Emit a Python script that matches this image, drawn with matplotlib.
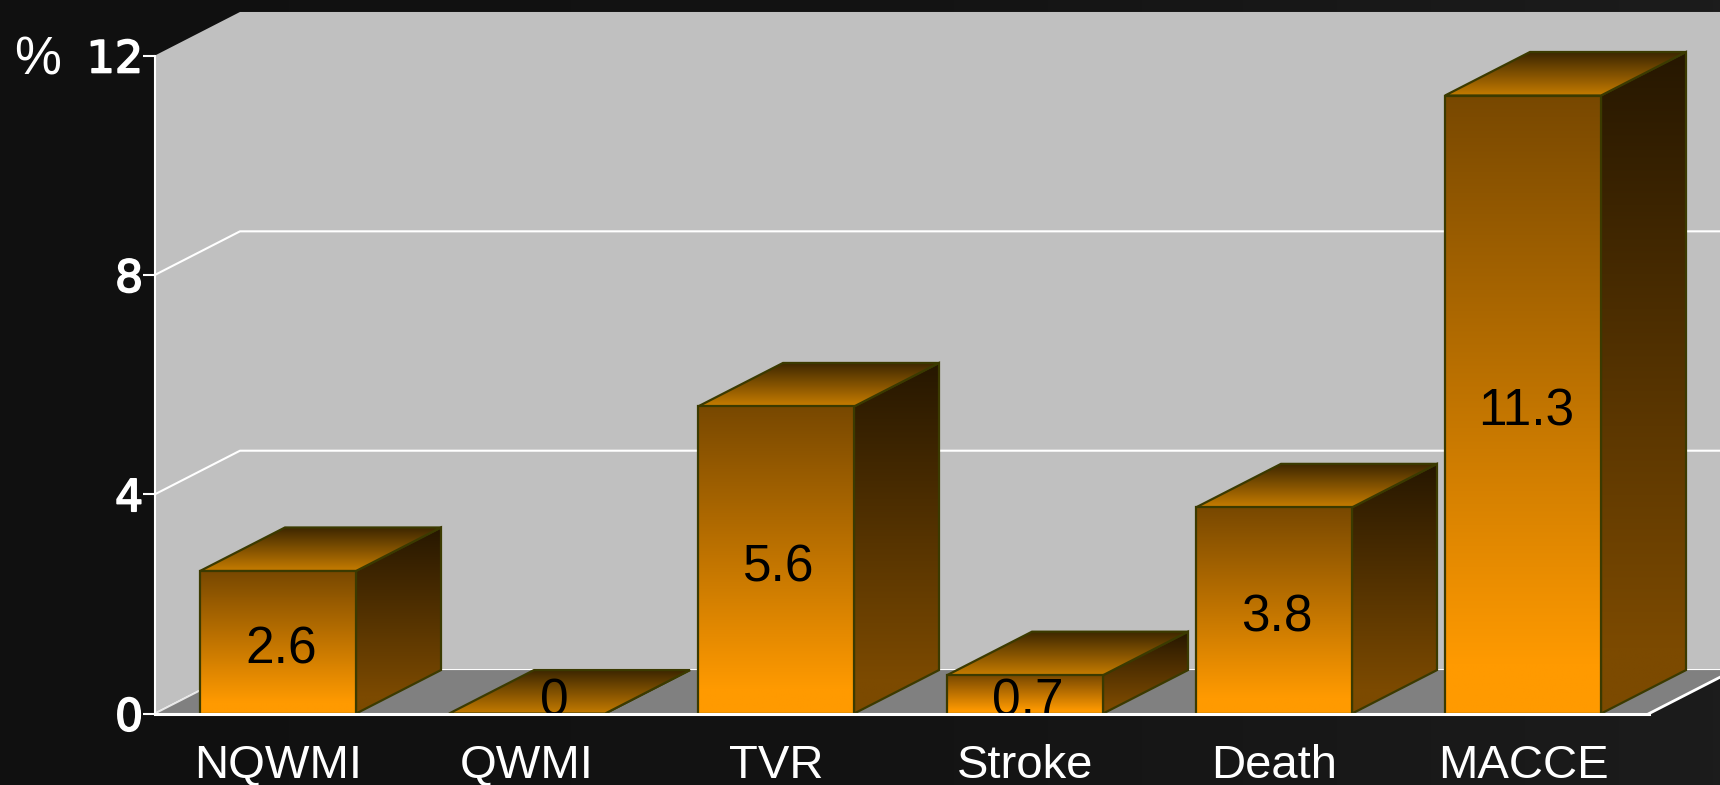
import numpy as np
import matplotlib
matplotlib.use('Agg')
import matplotlib.pyplot as plt
import matplotlib.colors as clr
import matplotlib.patheffects as pe
from matplotlib.patches import Polygon

# Chart data
categories = ['NQWMI', 'QWMI', 'TVR', 'Stroke', 'Death', 'MACCE']
values = [2.6, 0, 5.6, 0.7, 3.76, 11.27]    # bar heights
value_labels = ['2.6', '0', '5.6', '0.7', '3.8', '11.3']
y_ticks = [0, 4, 8, 12]

W, H = 1720, 785
bar_width = 156 / 249
depth_x = 85 / 249      # oblique offset of the back plane, in category units
depth_y = 43.5 / 54.8   # same, in percent units
edge = '#3b3a00'

plt.rcParams['font.family'] = ['Liberation Sans', 'DejaVu Sans']

fig = plt.figure(figsize=(W / 100, H / 100), dpi=100)

# Dark backdrop, a bit lighter to the right
bg = fig.add_axes([0, 0, 1, 1], zorder=-1)
bg_cmap = clr.LinearSegmentedColormap.from_list('bg', ['#101010', '#131313', '#1c1c1c'])
bg.imshow(np.linspace(0, 1, 256).reshape(1, -1), cmap=bg_cmap, aspect='auto')
bg.axis('off')

# The axes rectangle is the front plane of the 3D box
ax = fig.add_axes([155 / W, 1 - 713.6 / H, (1649 - 155) / W, (713.6 - 55.5) / H])
ax.patch.set_visible(False)
ax.set_xlim(-123 / 249, 1371 / 249)
ax.set_ylim(0, 12)
x0, x1 = ax.get_xlim()


def poly(points, **kw):
    p = Polygon(points, closed=True, clip_on=False, **kw)
    ax.add_patch(p)
    return p


def grad_face(points, colors, z):
    # vertical gradient clipped to the face outline, colors go bottom -> top
    points = np.array(points, dtype=float)
    cmap = clr.LinearSegmentedColormap.from_list('face', colors)
    ext = [points[:, 0].min(), points[:, 0].max(), points[:, 1].min(), points[:, 1].max()]
    im = ax.imshow(np.linspace(0, 1, 256).reshape(-1, 1), cmap=cmap, extent=ext,
                   origin='lower', aspect='auto', zorder=z, interpolation='bilinear')
    outline = poly(points, fc='none', ec=edge, lw=1.6, zorder=z + 0.1)
    im.set_clip_box(fig.bbox)
    im.set_clip_path(outline)


# Walls and floor
poly([(x0, 0), (x0, 12), (x0 + depth_x, 12 + depth_y), (x1 + 2 * depth_x, 12 + depth_y),
      (x1 + 2 * depth_x, depth_y), (x0 + depth_x, depth_y)], fc='#c0c0c0', ec='none', zorder=1)
poly([(x0, 0), (x0 + depth_x, depth_y), (x1 + depth_x, depth_y), (x1, 0)],
     fc='#808080', ec='none', zorder=2)

# Gridlines run along the side wall and then the back wall
for t in y_ticks[:-1]:
    ax.plot([x0, x0 + depth_x, x1 + depth_x], [t, t + depth_y, t + depth_y],
            color='white', lw=1.5, clip_on=False, zorder=1.5)
ax.plot([x0, x0 + depth_x], [0, depth_y], color='#e8e8e8', lw=1.2, clip_on=False, zorder=2.5)
ax.plot([x1, x1 + depth_x], [0, depth_y], color='white', lw=2, clip_on=False, zorder=2.5)

# Bars, left to right
for i, (v, lab) in enumerate(zip(values, value_labels)):
    l, r = i - bar_width / 2, i + bar_width / 2
    z = 3 + i
    grad_face([(r, 0), (r + depth_x, depth_y), (r + depth_x, v + depth_y), (r, v)],
              [(0, '#7c4a00'), (0.1, '#7c4a00'), (1, '#261700')], z)
    grad_face([(l, v), (r, v), (r + depth_x, v + depth_y), (l + depth_x, v + depth_y)],
              ['#c67c00', '#3c2600'], z + 0.2)
    if v > 0:
        grad_face([(l, 0), (r, 0), (r, v), (l, v)],
                  [(0, '#ff9a00'), (0.08, '#ff9a00'), (1, '#784800')], z + 0.4)
    off = 0.11 if v == 0 else 0.012
    ax.text(i + off, max(v / 2 - 0.14, 0.22), lab, color='black', fontsize=37,
            ha='center', va='center', clip_on=True, zorder=z + 0.6)

# Axes furniture
for name in ['top', 'right']:
    ax.spines[name].set_visible(False)
ax.spines['left'].set_color('white')
ax.spines['left'].set_linewidth(1.5)
ax.spines['left'].set_zorder(20)
ax.spines['bottom'].set_color('white')
ax.spines['bottom'].set_linewidth(2.2)
ax.spines['bottom'].set_zorder(20)

ax.set_yticks(y_ticks)
ax.tick_params(axis='y', colors='white', length=8.5, width=1.5, pad=0)
for t in ax.get_yticklabels():
    t.set_fontsize(32)
    t.set_family(['DejaVu Sans'])
    t.set_path_effects([pe.withStroke(linewidth=1.2, foreground='white')])

ax.set_xticks(range(len(categories)), categories)
ax.tick_params(axis='x', colors='white', length=0, pad=22, labelsize=34)

ax.set_ylabel('%', color='white', fontsize=38, rotation=0, labelpad=0)
ax.yaxis.set_label_coords(-0.0785, 0.955)

fig.savefig('out.png', dpi=100)
